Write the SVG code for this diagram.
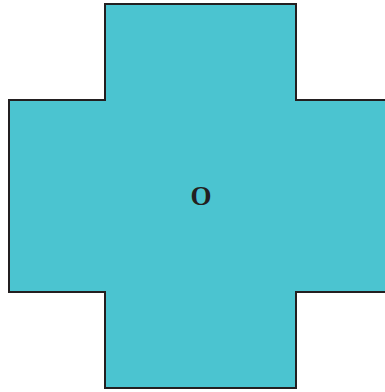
<svg xmlns="http://www.w3.org/2000/svg" width="385" height="392" viewBox="0 0 385 392">
<style>
.shape{fill:#4bc4d0;stroke:#231f20;stroke-width:2;stroke-linejoin:miter}
.lbl{font-family:"Liberation Serif",serif;font-weight:bold;font-size:27px;fill:#231f20;text-anchor:middle}
</style>
<g id="cross">
<polygon class="shape" points="105,4 296,4 296,100 387,100 387,292 296,292 296,388 105,388 105,292 9,292 9,100 105,100"/>
<text class="lbl" x="201" y="205">O</text>
</g>
</svg>
